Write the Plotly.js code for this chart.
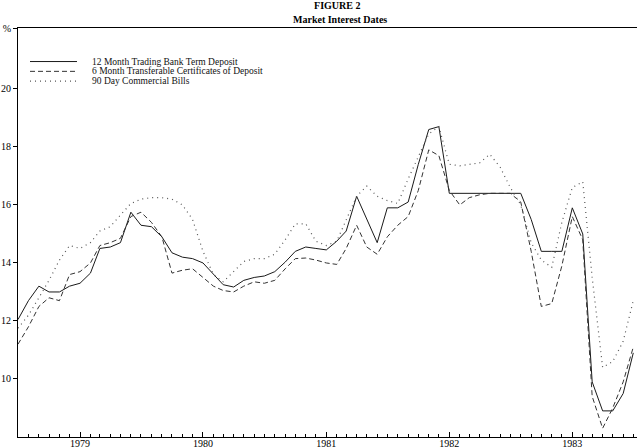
<!DOCTYPE html>
<html><head><meta charset="utf-8">
<script src="https://cdn.plot.ly/plotly-3.0.1.min.js"></script>
<style>html,body{margin:0;padding:0;background:#fff}#chart{width:640px;height:448px}</style>
</head><body><div id="chart"></div>
<script>
const months = [
 '1978-07-01','1978-08-01','1978-09-01','1978-10-01','1978-11-01','1978-12-01',
 '1979-01-01','1979-02-01','1979-03-01','1979-04-01','1979-05-01','1979-06-01',
 '1979-07-01','1979-08-01','1979-09-01','1979-10-01','1979-11-01','1979-12-01',
 '1980-01-01','1980-02-01','1980-03-01','1980-04-01','1980-05-01','1980-06-01',
 '1980-07-01','1980-08-01','1980-09-01','1980-10-01','1980-11-01','1980-12-01',
 '1981-01-01','1981-02-01','1981-03-01','1981-04-01','1981-05-01','1981-06-01',
 '1981-07-01','1981-08-01','1981-09-01','1981-10-01','1981-11-01','1981-12-01',
 '1982-01-01','1982-02-01','1982-03-01','1982-04-01','1982-05-01','1982-06-01',
 '1982-07-01','1982-08-01','1982-09-01','1982-10-01','1982-11-01','1982-12-01',
 '1983-01-01','1983-02-01','1983-03-01','1983-04-01','1983-05-01','1983-06-01',
 '1983-07-01'
];
const seriesNames = [
 '12 Month Trading Bank Term Deposit',
 '6 Month Transferable Certificates of Deposit',
 '90 Day Commercial Bills'
];
const termDeposit = [
 12.05,12.7,13.2,13.0,13.0,13.2,
 13.3,13.65,14.5,14.55,14.7,15.75,
 15.3,15.25,14.9,14.35,14.2,14.15,
 14.0,13.6,13.25,13.17,13.4,13.5,
 13.55,13.7,14.03,14.4,14.55,14.5,
 14.45,14.75,15.1,16.3,15.5,14.7,
 15.9,15.9,16.1,17.4,18.6,18.7,
 16.4,16.4,16.4,16.4,16.4,16.4,
 16.4,16.4,15.5,14.4,14.4,14.4,
 15.9,15.0,9.9,8.9,8.9,9.5,
 10.9
];
const certificates = [
 11.2,11.8,12.5,12.8,12.7,13.6,
 13.7,14.0,14.6,14.7,14.85,15.6,
 15.75,15.4,14.9,13.65,13.75,13.8,
 13.5,13.2,13.05,13.0,13.2,13.35,
 13.3,13.4,13.8,14.15,14.17,14.1,
 14.0,13.95,14.5,15.3,14.55,14.3,
 14.9,15.3,15.6,16.5,17.9,17.7,
 16.5,16.0,16.25,16.35,16.4,16.4,
 16.4,16.1,14.4,12.5,12.6,13.9,
 15.6,14.8,9.4,8.3,9.0,9.9,
 11.1
];
const bills = [
 11.75,12.2,12.8,13.4,14.1,14.6,
 14.5,14.7,15.1,15.25,15.65,16.05,
 16.2,16.25,16.25,16.2,16.0,15.5,
 14.4,13.6,13.35,13.7,14.05,14.15,
 14.15,14.3,14.8,15.35,15.35,14.75,
 14.6,14.75,15.5,16.3,16.65,16.3,
 16.15,16.05,16.9,17.65,18.45,18.7,
 17.4,17.35,17.4,17.45,17.75,17.3,
 16.6,16.0,14.7,14.1,13.85,15.4,
 16.6,16.8,13.5,10.4,10.6,11.3,
 12.7
];
const yTickVals = [10,12,14,16,18,20,22.1];
const yTickText = ['10','12','14','16','18','20','%'];

const serif = 'Liberation Serif, Times New Roman, serif';
const styles = [
 {color:'#1a1a1a', dash:'solid', width:1},
 {color:'#333333', dash:'5px,3px', width:1},
 {color:'#555555', dash:'1px,4px', width:1.2}
];
const allSeries = [termDeposit, certificates, bills];

const traces = allSeries.map((vals, k) => ({
  x: months, y: vals, type: 'scatter', mode: 'lines',
  name: seriesNames[k], line: styles[k], showlegend: false
}));

// compact legend keys (layout decoration, not data)
const shapes = [];
const annotations = [];
const legY = [0.918, 0.894, 0.870];
seriesNames.forEach((n, k) => {
  shapes.push({type:'line', xref:'paper', yref:'paper', x0:0.0194, x1:0.0953,
    y0:legY[k], y1:legY[k], line:styles[k]});
  annotations.push({xref:'paper', yref:'paper', x:0.116, y:legY[k], xanchor:'left',
    yanchor:'middle', showarrow:false, text:n, font:{family:serif, size:9.5, color:'#111'}});
});
annotations.push({xref:'paper', yref:'paper', x:0.52, y:1.022, xanchor:'center', yanchor:'middle',
  showarrow:false, text:'<b>Market Interest Dates</b>', font:{family:serif, size:10, color:'#000'}});

const layout = {
  width: 640, height: 448,
  margin: {l:18, r:3, t:28, b:11, pad:0},
  paper_bgcolor:'#fff', plot_bgcolor:'#fff',
  title: {text:'<b>FIGURE 2</b>', x:0.527, xanchor:'center', y:0.995, yanchor:'top',
    font:{family:serif, size:10, color:'#000'}},
  xaxis: {
    type:'date', range:['1978-07-01','1983-07-12'],
    tick0:'1979-01-01', dtick:'M12', tickformat:'%Y',
    ticks:'inside', ticklen:5, tickcolor:'#000',
    minor:{dtick:'M1', ticks:'inside', ticklen:3, tickcolor:'#000', showgrid:false},
    showline:true, linecolor:'#000', linewidth:1, mirror:true,
    showgrid:false, zeroline:false, ticklabelstandoff:-3,
    tickfont:{family:serif, size:10, color:'#000'}
  },
  yaxis: {
    range:[8,22.1], tickvals:yTickVals, ticktext:yTickText,
    ticks:'outside', ticklen:4, tickcolor:'#000',
    showline:true, linecolor:'#000', linewidth:1,
    showgrid:false, zeroline:false,
    tickfont:{family:serif, size:10, color:'#000'}
  },
  shapes: shapes,
  annotations: annotations,
  showlegend:false
};
Plotly.newPlot('chart', traces, layout, {staticPlot:true, displayModeBar:false});
</script>
</body></html>
